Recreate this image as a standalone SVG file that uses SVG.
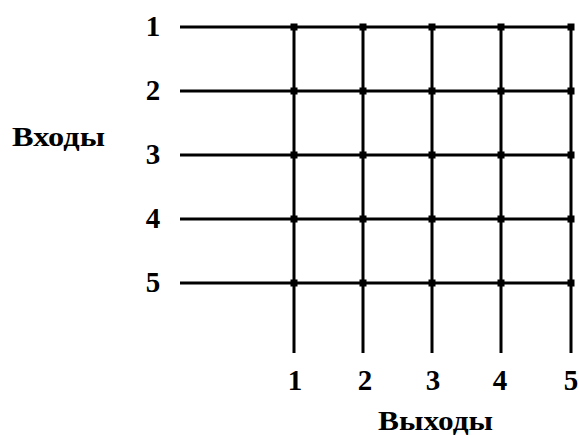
<svg xmlns="http://www.w3.org/2000/svg" width="579" height="435" viewBox="0 0 579 435">
<style>
.l{stroke:#000;stroke-width:3;fill:none}
.t{font-family:"Liberation Serif","Times New Roman",serif;font-weight:bold;font-size:29px;fill:#000}
.w{font-size:27px}
.c{text-anchor:middle}
.d{fill:#000}
</style>
<rect width="579" height="435" fill="#fff"/>
<g id="connectors">
<path class="l" d="M180 27H573M180 91H573M180 155H573M180 219H573M180 283H573"/>
<path class="l" d="M294 27V353M363 27V353M432 27V353M501 27V353M571 27V353"/>
</g>
<g id="junctions">
<rect class="d" x="290.5" y="23.5" width="7" height="7"/><rect class="d" x="359.5" y="23.5" width="7" height="7"/><rect class="d" x="428.5" y="23.5" width="7" height="7"/><rect class="d" x="497.5" y="23.5" width="7" height="7"/><rect class="d" x="567.5" y="23.5" width="7" height="7"/>
<rect class="d" x="290.5" y="87.5" width="7" height="7"/><rect class="d" x="359.5" y="87.5" width="7" height="7"/><rect class="d" x="428.5" y="87.5" width="7" height="7"/><rect class="d" x="497.5" y="87.5" width="7" height="7"/><rect class="d" x="567.5" y="87.5" width="7" height="7"/>
<rect class="d" x="290.5" y="151.5" width="7" height="7"/><rect class="d" x="359.5" y="151.5" width="7" height="7"/><rect class="d" x="428.5" y="151.5" width="7" height="7"/><rect class="d" x="497.5" y="151.5" width="7" height="7"/><rect class="d" x="567.5" y="151.5" width="7" height="7"/>
<rect class="d" x="290.5" y="215.5" width="7" height="7"/><rect class="d" x="359.5" y="215.5" width="7" height="7"/><rect class="d" x="428.5" y="215.5" width="7" height="7"/><rect class="d" x="497.5" y="215.5" width="7" height="7"/><rect class="d" x="567.5" y="215.5" width="7" height="7"/>
<rect class="d" x="290.5" y="279.5" width="7" height="7"/><rect class="d" x="359.5" y="279.5" width="7" height="7"/><rect class="d" x="428.5" y="279.5" width="7" height="7"/><rect class="d" x="497.5" y="279.5" width="7" height="7"/><rect class="d" x="567.5" y="279.5" width="7" height="7"/>
</g>
<g id="inputs">
<text class="t c" x="153" y="36">1</text>
<text class="t c" x="153" y="100">2</text>
<text class="t c" x="153" y="164">3</text>
<text class="t c" x="153" y="228">4</text>
<text class="t c" x="153" y="292">5</text>
<text class="t w" x="12" y="146" textLength="93" lengthAdjust="spacingAndGlyphs">Входы</text>
</g>
<g id="outputs">
<text class="t c" x="295" y="390">1</text>
<text class="t c" x="365" y="390">2</text>
<text class="t c" x="433" y="390">3</text>
<text class="t c" x="500" y="390">4</text>
<text class="t c" x="571" y="390">5</text>
<text class="t w" x="378" y="430" textLength="115" lengthAdjust="spacingAndGlyphs">Выходы</text>
</g>
</svg>
